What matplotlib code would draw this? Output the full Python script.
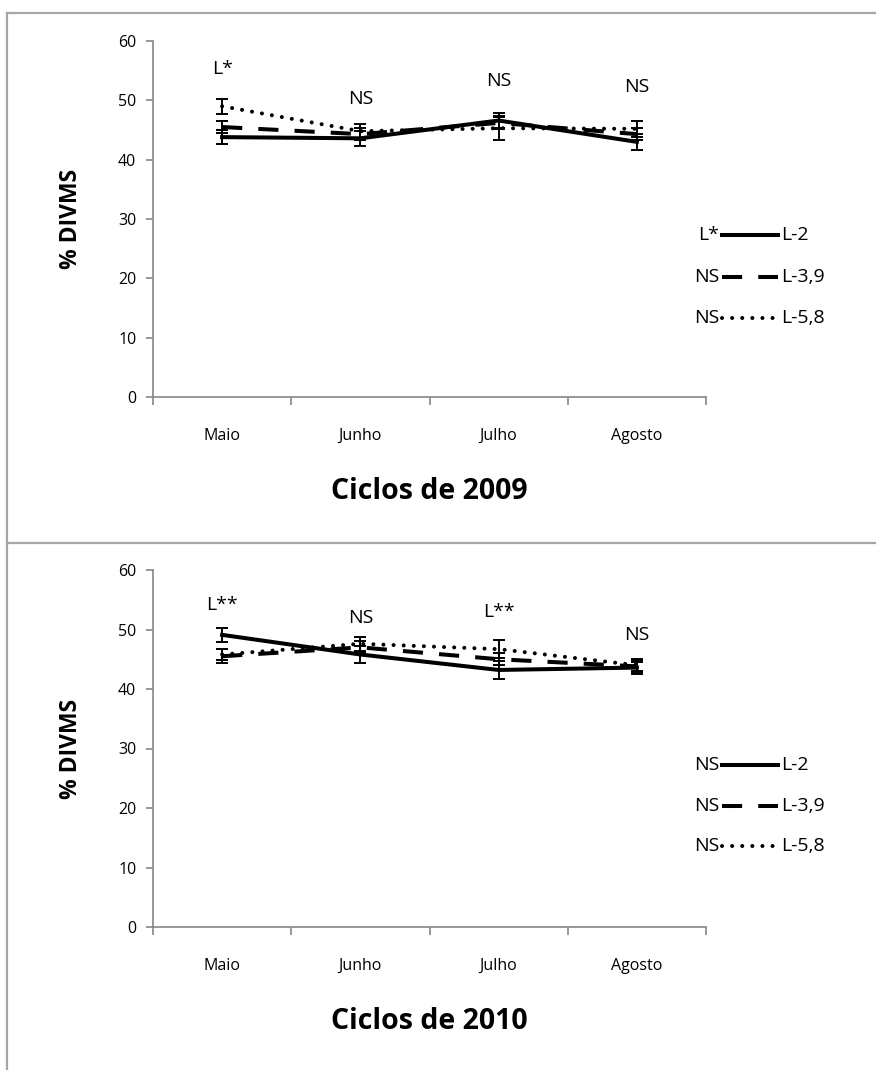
import numpy as np
import matplotlib
matplotlib.use("Agg")
import matplotlib.pyplot as plt
from matplotlib.lines import Line2D

plt.rcParams['font.family'] = ['Open Sans', 'DejaVu Sans']

months = ['Maio', 'Junho', 'Julho', 'Agosto']
series_names = ['L-2', 'L-3,9', 'L-5,8']

# ciclos de 2009
y2009_l2 = [43.8, 43.6, 46.6, 43.0]
y2009_l39 = [45.5, 44.3, 46.2, 44.3]
y2009_l58 = [49.0, 44.8, 45.3, 45.2]
e2009_l2 = [1.2, 1.3, 1.3, 1.3]
e2009_l39 = [1.0, 1.0, 1.0, 1.0]
e2009_l58 = [1.3, 1.2, 2.0, 1.3]
sig2009_month = ['L*', 'NS', 'NS', 'NS']
sig2009_series = ['L*', 'NS', 'NS']

# ciclos de 2010
y2010_l2 = [49.1, 45.8, 43.2, 43.6]
y2010_l39 = [45.5, 47.0, 45.0, 43.8]
y2010_l58 = [45.8, 47.6, 46.7, 44.0]
e2010_l2 = [1.2, 1.5, 1.5, 1.0]
e2010_l39 = [1.2, 1.0, 1.0, 1.0]
e2010_l58 = [1.0, 1.2, 1.5, 1.0]
sig2010_month = ['L**', 'NS', 'L**', 'NS']
sig2010_series = ['NS', 'NS', 'NS']

styles = [dict(linestyle='-'),
          dict(linestyle=(0, (5.0, 4.0))),
          dict(linestyle=(0, (0.01, 2.5)), dash_capstyle='round')]

W, H = 876, 1070
fig = plt.figure(figsize=(W / 100, H / 100), dpi=100)

def fx(px):
    return px / W

def fy(py):
    return 1 - py / H

def panel(ax_rect, ys, es, sig_month, sig_pos, sig_series, legend_rows, title):
    ax = fig.add_axes(ax_rect)
    x = np.arange(1, len(months) + 1)
    for y, e, st in zip(ys, es, styles):
        ax.errorbar(x, y, yerr=e, color='black', lw=2.9, elinewidth=1.4,
                    capsize=4, capthick=1.4, **st)
    for xi, s, p in zip(x, sig_month, sig_pos):
        ax.text(xi, p, s, ha='center', va='center', fontsize=14)
    ax.set_xlim(0.5, len(months) + 0.5)
    ax.set_ylim(0, 60)
    ax.set_yticks(range(0, 61, 10))
    ax.set_xticks(np.arange(0.5, len(months) + 1))
    ax.set_xticklabels([])
    ax.set_xticks(x, minor=True)
    ax.set_xticklabels(months, minor=True)
    ax.tick_params(axis='x', which='major', length=6, color='#868686', width=1.2)
    ax.tick_params(axis='x', which='minor', length=0, pad=22, labelsize=11.5)
    ax.tick_params(axis='y', length=5, color='#868686', width=1.2, labelsize=11.5, pad=7)
    for side in ['top', 'right']:
        ax.spines[side].set_visible(False)
    for side in ['left', 'bottom']:
        ax.spines[side].set_color('#868686')
        ax.spines[side].set_linewidth(1.2)
    ax.set_ylabel('% DIVMS', fontsize=16.5, fontweight='bold', labelpad=25)
    ax.set_xlabel(title, fontsize=20.5, fontweight='bold', labelpad=24)
    # legend drawn at the right
    for row_y, pre, name, st in zip(legend_rows, sig_series, series_names, styles):
        fig.text(fx(719), fy(row_y), pre, ha='right', va='center', fontsize=14)
        fig.add_artist(Line2D([fx(722), fx(778)], [fy(row_y), fy(row_y)],
                              color='black', lw=2.9, **st))
        fig.text(fx(781), fy(row_y), name, ha='left', va='center', fontsize=14)
    return ax

panel([fx(153), fy(397), fx(706) - fx(153), fy(41) - fy(397)],
      [y2009_l2, y2009_l39, y2009_l58], [e2009_l2, e2009_l39, e2009_l58],
      sig2009_month, [55.3, 50.3, 53.3, 52.3], sig2009_series,
      [235, 277, 318], 'Ciclos de 2009')

panel([fx(153), fy(927), fx(706) - fx(153), fy(570) - fy(927)],
      [y2010_l2, y2010_l39, y2010_l58], [e2010_l2, e2010_l39, e2010_l58],
      sig2010_month, [54.1, 51.9, 52.9, 49.1], sig2010_series,
      [765, 806, 846], 'Ciclos de 2010')

# gray frames around the panels
frame = dict(color='#a6a6a6', lw=1.6)
fig.add_artist(Line2D([fx(7), 1], [fy(13), fy(13)], **frame))
fig.add_artist(Line2D([fx(7), fx(7)], [fy(13), 0], **frame))
fig.add_artist(Line2D([fx(7), 1], [fy(543), fy(543)], **frame))

fig.savefig('out.png', dpi=100)
